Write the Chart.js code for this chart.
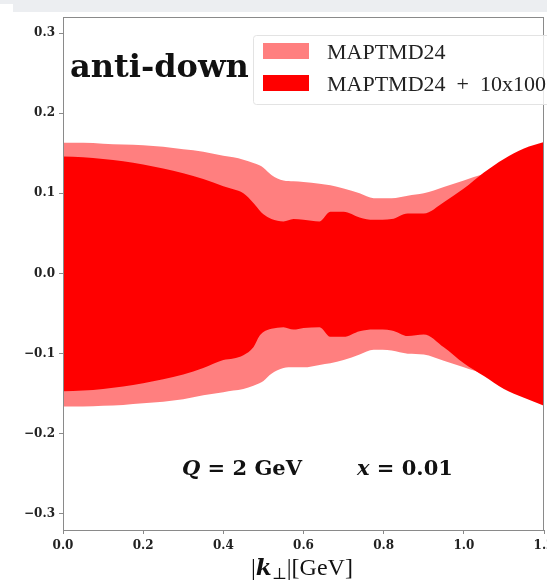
<!DOCTYPE html>
<html>
<head>
<meta charset="utf-8">
<script src="https://cdn.jsdelivr.net/npm/chart.js@4/dist/chart.umd.min.js"></script>
<style>
    html, body { margin: 0; padding: 0; background: #fff; overflow: hidden; }
    #wrap { position: relative; width: 560px; height: 581px; }
    .band { position: absolute; background: #eceef1; }
</style>
</head>
<body>
<div class="band" style="left:0;top:0;width:547px;height:4px"></div>
<div class="band" style="left:13px;top:0;width:534px;height:12px"></div>
<div id="wrap"><canvas id="tmdChart" width="560" height="581"></canvas></div>
<script>
// transverse momentum grid |k_perp| in GeV
const kPerp = [0, 0.05, 0.1, 0.15, 0.2, 0.25, 0.3, 0.35, 0.4, 0.425, 0.45, 0.475, 0.49, 0.5,
    0.52, 0.55, 0.575, 0.6, 0.64, 0.667, 0.7, 0.74, 0.775, 0.82, 0.86, 0.9, 0.95, 1.0, 1.05,
    1.1, 1.15, 1.2];

// MAPTMD24 band
const baseUpper = [0.163, 0.163, 0.162, 0.161, 0.160, 0.158, 0.155, 0.152, 0.147, 0.145, 0.142,
    0.138, 0.135, 0.132, 0.123, 0.116, 0.115, 0.114, 0.112, 0.110, 0.106, 0.100, 0.094, 0.094,
    0.097, 0.100, 0.108, 0.116, 0.124, 0.130, 0.135, 0.140];
const baseLower = [-0.166, -0.166, -0.165, -0.164, -0.162, -0.160, -0.157, -0.152, -0.148, -0.146,
    -0.144, -0.140, -0.137, -0.134, -0.125, -0.118, -0.117, -0.117, -0.114, -0.112, -0.108, -0.101,
    -0.095, -0.096, -0.100, -0.101, -0.109, -0.117, -0.125, -0.130, -0.135, -0.140];

// MAPTMD24 + 10x100 band
const extUpper = [0.146, 0.145, 0.143, 0.140, 0.136, 0.131, 0.125, 0.118, 0.109, 0.105, 0.100,
    0.088, 0.079, 0.074, 0.068, 0.065, 0.068, 0.067, 0.065, 0.077, 0.077, 0.070, 0.067, 0.068,
    0.075, 0.075, 0.089, 0.106, 0.126, 0.143, 0.156, 0.164];
const extLower = [-0.147, -0.146, -0.144, -0.141, -0.137, -0.132, -0.126, -0.118, -0.108, -0.106,
    -0.102, -0.092, -0.078, -0.073, -0.069, -0.067, -0.070, -0.068, -0.067, -0.079, -0.079, -0.072,
    -0.070, -0.071, -0.078, -0.076, -0.092, -0.112, -0.128, -0.144, -0.155, -0.165];

const xTicks = [0, 0.2, 0.4, 0.6, 0.8, 1.0, 1.2];
const yTicks = [-0.3, -0.2, -0.1, 0.0, 0.1, 0.2, 0.3];
const legendLabels = ['MAPTMD24', 'MAPTMD24\u2002+\u200210x100'];
const lightRed = '#ff7f7f';
const fullRed = '#ff0000';

const toPoints = ys => kPerp.map((x, i) => ({ x: x, y: ys[i] }));
const edge = (ys, color, fill) => ({
    data: toPoints(ys),
    borderWidth: 0,
    pointRadius: 0,
    cubicInterpolationMode: 'monotone',
    backgroundColor: color,
    fill: fill
});

const tickFont = { family: 'DejaVu Serif', weight: 'bold', size: 12 };
const fmt = v => (Math.abs(v) < 1e-9 ? '0.0' : (v < 0 ? '\u2212' : '') + Math.abs(v).toFixed(1));

// frame, legend and annotations
const decorations = {
    id: 'decorations',
    afterDraw(chart) {
        const ctx = chart.ctx;
        const a = chart.chartArea;
        ctx.save();
        ctx.strokeStyle = '#8a8a8a';
        ctx.lineWidth = 1;
        ctx.strokeRect(a.left + 0.5, a.top + 0.5, a.right - a.left - 1, a.bottom - a.top);

        // legend
        ctx.fillStyle = 'rgba(255,255,255,0.8)';
        ctx.strokeStyle = '#e3e3e3';
        ctx.beginPath();
        ctx.roundRect(253.5, 35.5, 320, 69, 3);
        ctx.fill();
        ctx.stroke();
        ctx.fillStyle = lightRed;
        ctx.fillRect(263, 43, 46, 16);
        ctx.fillStyle = fullRed;
        ctx.fillRect(263, 75, 46, 16);
        ctx.fillStyle = '#222';
        ctx.font = '22px "Liberation Serif"';
        ctx.textBaseline = 'alphabetic';
        ctx.fillText(legendLabels[0], 327, 59);
        ctx.fillText(legendLabels[1], 327, 91);

        // flavour label
        ctx.fillStyle = '#111';
        ctx.font = 'bold 32px "DejaVu Serif"';
        ctx.fillText('anti-down', 70, 77);

        // kinematics
        const runs = (x, y, parts) => {
            parts.forEach(p => {
                ctx.font = p[1];
                ctx.fillText(p[0], x, y + (p[2] || 0));
                x += ctx.measureText(p[0]).width;
            });
            return x;
        };
        const bi = 'italic bold 21px "DejaVu Serif"';
        const b = 'bold 21px "DejaVu Serif"';
        runs(182, 475, [['Q', bi], [' = 2 GeV', b]]);
        runs(357, 475, [['x', bi], [' = 0.01', b]]);

        // axis title
        const r = '24px "Liberation Serif"';
        runs(251, 575, [['|', r], ['k', 'italic bold 23px "DejaVu Serif"'],
            ['\u22a5', '16px "DejaVu Serif"', 4], ['|[GeV]', r]]);
        ctx.restore();
    }
};

new Chart(document.getElementById('tmdChart'), {
    type: 'line',
    data: {
        datasets: [
            edge(extUpper, fullRed, '+1'),
            edge(extLower, fullRed, false),
            edge(baseUpper, lightRed, '+1'),
            edge(baseLower, lightRed, false)
        ]
    },
    options: {
        responsive: false,
        animation: false,
        layout: { padding: { top: 17, right: 16, left: 0, bottom: 0 } },
        plugins: { legend: { display: false }, tooltip: { enabled: false } },
        scales: {
            x: {
                type: 'linear',
                min: 0,
                max: 1.2,
                afterFit: s => { s.height = 51; },
                afterBuildTicks: s => { s.ticks = xTicks.map(v => ({ value: v })); },
                border: { color: '#8a8a8a' },
                grid: { drawOnChartArea: false, tickLength: 4, color: '#8a8a8a' },
                ticks: { font: tickFont, color: '#222', padding: 5, maxRotation: 0, callback: fmt }
            },
            y: {
                min: -0.32,
                max: 0.32,
                afterFit: s => { s.width = 63; },
                afterBuildTicks: s => { s.ticks = yTicks.map(v => ({ value: v })); },
                border: { color: '#8a8a8a' },
                grid: { drawOnChartArea: false, tickLength: 4, color: '#8a8a8a' },
                ticks: { font: tickFont, color: '#222', padding: 4, callback: fmt }
            }
        }
    },
    plugins: [decorations]
});
</script>
</body>
</html>
